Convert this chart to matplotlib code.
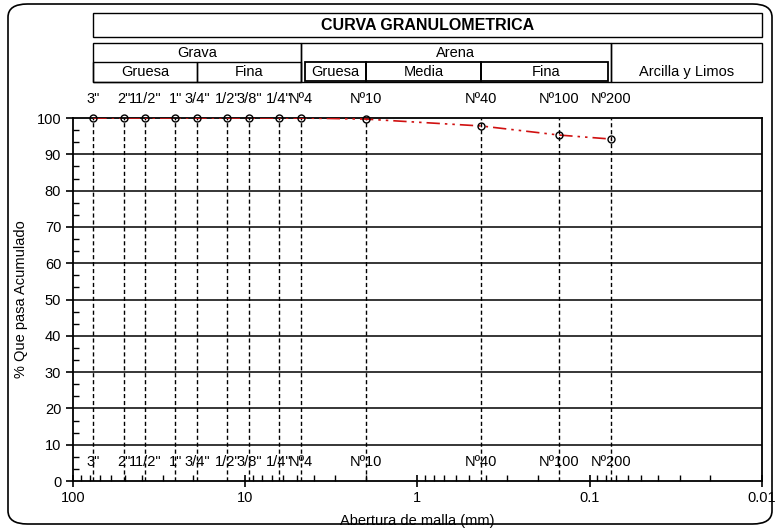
import numpy as np
import matplotlib
matplotlib.use("Agg")
import matplotlib.pyplot as plt
from matplotlib.patches import Rectangle, FancyBboxPatch
from matplotlib.ticker import AutoMinorLocator, FixedLocator, LogLocator, NullFormatter
import matplotlib.transforms as mtransforms

plt.rcParams['font.family'] = ['Liberation Sans', 'DejaVu Sans']

# tamices
sieve_names = ['3"', '2"', '11/2"', '1"', '3/4"', '1/2"', '3/8"', '1/4"',
               'Nº4', 'Nº10', 'Nº40', 'Nº100', 'Nº200']
sieve_mm = [76.2, 50.8, 38.1, 25.4, 19.05, 12.7, 9.525, 6.35,
            4.76, 2.0, 0.425, 0.15, 0.075]
pct_pass = [100, 100, 100, 100, 100, 100, 100, 100,
            100, 99.7, 97.8, 95.3, 94.2]

# limites de la tabla superior
grava_lim = [76.2, 19.05, 4.76]
arena_lim = [4.76, 2.0, 0.425, 0.075]
fino_lim = [0.075, 0.01]

fig = plt.figure(figsize=(7.8, 5.28), dpi=100)
ax = fig.add_axes([0.0936, 0.089, 0.883, 0.6875])

ax.set_xscale('log')
ax.set_xlim(100, 0.01)
ax.set_ylim(0, 100)

for yy in range(10, 100, 10):
    ax.axhline(yy, color='black', lw=1.1, zorder=1)
for s in sieve_mm:
    ax.axvline(s, color='black', lw=1.0, ls=(0, (3, 2)), zorder=1)

ax.plot(sieve_mm, pct_pass, color='#d01010', lw=1.2,
        ls=(0, (8, 3, 1.5, 3, 1.5, 3)), zorder=3)
ax.plot(sieve_mm, pct_pass, 'o', mfc='none', mec='black', ms=5, mew=1.0,
        zorder=4, clip_on=False)

# etiquetas de tamices arriba y abajo
trans = mtransforms.blended_transform_factory(ax.transData, ax.transAxes)
for s, n in zip(sieve_mm, sieve_names):
    ax.text(s, 1.052, n, transform=trans, ha='center', va='center', fontsize=10.5)
    ax.text(s, 5.2, n, ha='center', va='center', fontsize=10.5, zorder=2)

ax.set_yticks(range(0, 101, 10))
ax.yaxis.set_minor_locator(AutoMinorLocator(3))
ax.xaxis.set_major_locator(FixedLocator([100, 10, 1, 0.1, 0.01]))
ax.set_xticklabels(['100', '10', '1', '0.1', '0.01'])
ax.xaxis.set_minor_locator(LogLocator(base=10, subs=np.arange(2, 10)))
ax.xaxis.set_minor_formatter(NullFormatter())
ax.tick_params(axis='x', which='major', direction='inout', length=8, width=1.2, labelsize=10.5)
ax.tick_params(axis='x', which='minor', direction='in', length=4, width=1)
ax.tick_params(axis='y', which='major', direction='out', length=5, width=1.2, labelsize=10.5)
ax.tick_params(axis='y', which='minor', direction='in', length=4, width=1)
for sp in ax.spines.values():
    sp.set_linewidth(1.3)

ax.set_xlabel('Abertura de malla (mm)', fontsize=10.5, labelpad=6)
ax.set_ylabel('% Que pasa Acumulado', fontsize=10.5, labelpad=6)


def box(x0, x1, y0, y1, lw=1.0):
    r = Rectangle((x0, y0), x1 - x0, y1 - y0, transform=trans, fill=False,
                  ec='black', lw=lw, clip_on=False)
    ax.add_patch(r)


def label(x0, x1, y, txt, **kw):
    xm = np.sqrt(x0 * x1)
    ax.text(xm, y, txt, transform=trans, ha='center', va='center', **kw)


# titulo
box(grava_lim[0], 0.01, 1.223, 1.289)
label(grava_lim[0], 0.01, 1.256, 'CURVA GRANULOMETRICA', fontsize=11.5, fontweight='bold')

# fila grava / arena / finos
yt, yb = 1.207, 1.099
ys0, ys1 = 1.102, 1.154
box(grava_lim[0], grava_lim[2], yb, yt)
label(grava_lim[0], grava_lim[2], 1.18, 'Grava', fontsize=10.5)
box(grava_lim[0], grava_lim[1], yb, ys1)
box(grava_lim[1], grava_lim[2], yb, ys1)
label(grava_lim[0], grava_lim[1], 1.127, 'Gruesa', fontsize=10.5)
label(grava_lim[1], grava_lim[2], 1.127, 'Fina', fontsize=10.5)

box(arena_lim[0], arena_lim[3], yb, yt)
label(arena_lim[0], arena_lim[3], 1.18, 'Arena', fontsize=10.5)
box(4.5, arena_lim[1], ys0, ys1, lw=1.3)
box(arena_lim[1], arena_lim[2], ys0, ys1, lw=1.3)
box(arena_lim[2], 0.078, ys0, ys1, lw=1.3)
label(4.5, arena_lim[1], 1.127, 'Gruesa', fontsize=10.5)
label(arena_lim[1], arena_lim[2], 1.127, 'Media', fontsize=10.5)
label(arena_lim[2], arena_lim[3], 1.127, 'Fina', fontsize=10.5)

box(fino_lim[0], fino_lim[1], yb, yt)
label(fino_lim[0], fino_lim[1], 1.127, 'Arcilla y Limos', fontsize=10.5)

# marco redondeado
frame = FancyBboxPatch((8 / 780, 4 / 528), 764 / 780, 520 / 528,
                       boxstyle='round,pad=0,rounding_size=0.025',
                       transform=fig.transFigure, fill=False, ec='black', lw=1.2)
fig.patches.append(frame)

fig.savefig('out.png', dpi=100)
